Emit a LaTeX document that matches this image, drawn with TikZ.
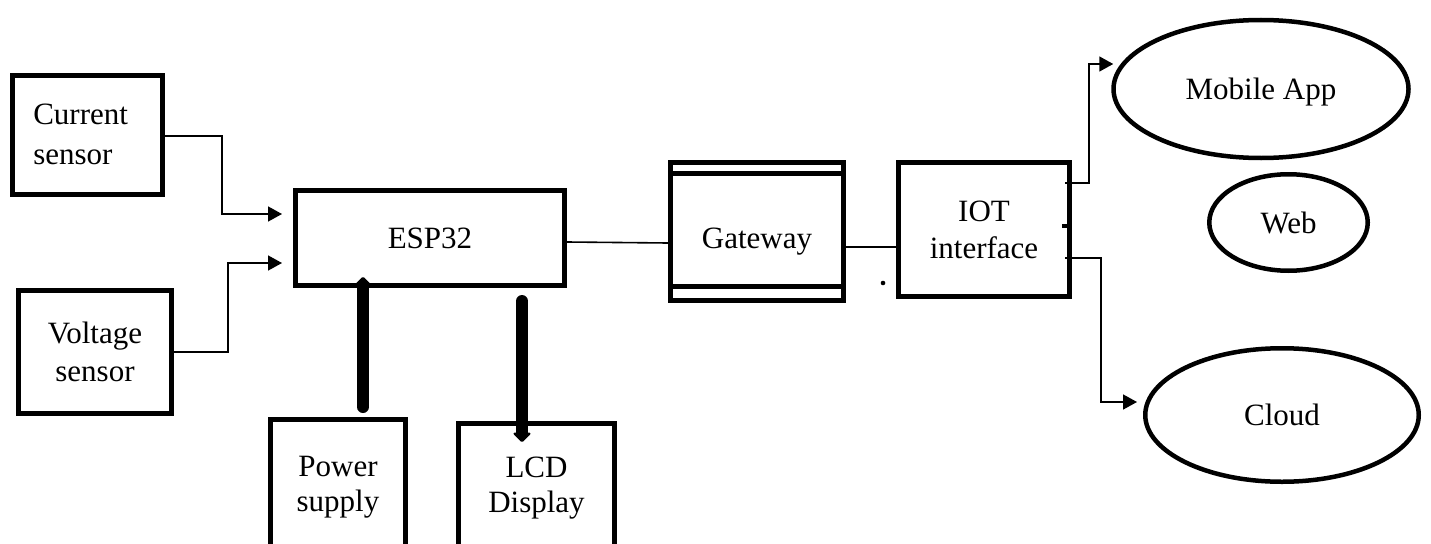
\documentclass[tikz,border=0pt]{standalone}
\usepackage{fontspec}
\setmainfont{Liberation Serif}
\usetikzlibrary{arrows.meta,shapes.geometric,calc}
\begin{document}
\begin{tikzpicture}[x=1pt,y=-1pt,
  box/.style={draw, line width=5pt, rectangle, inner sep=0pt, align=center, font=\fontsize{31}{38}\selectfont},
  oval/.style={draw, ellipse, line width=4.5pt, inner sep=0pt, font=\fontsize{31}{38}\selectfont},
  conn/.style={line width=1.6pt, -{Triangle[length=14pt,width=15pt]}},
  plainline/.style={line width=1.6pt},
  bigarrow/.style={line width=12pt, line cap=round, -{Triangle[length=10pt,width=20pt,round]}},
]
\useasboundingbox (0,0) rectangle (1431,543);
\clip (0,0) rectangle (1431,543);

% boxes
\node[box, minimum width=150.5pt, minimum height=118.5pt, text width=108pt, align=left,
      font=\fontsize{31}{40}\selectfont] (cur) at (87.25,134.75) {Current\\sensor};
\node[box, minimum width=153pt, minimum height=123pt] (volt) at (95,352) {Voltage\\sensor};
\node[box, minimum width=269pt, minimum height=95pt] (esp) at (430,238) {ESP32};
\node[box, minimum width=135pt, minimum height=136.2pt, font=\fontsize{31}{35}\selectfont] (power) at (338,487.6) {Power\\supply};
\node[box, minimum width=156pt, minimum height=128.2pt, font=\fontsize{31}{35}\selectfont] (lcd) at (536.5,487.6) {LCD\\Display};
\node[box, minimum width=173pt, minimum height=138pt, text height=40.7pt, text depth=6.7pt] (gw) at (757,231) {Gateway};
\node[box, minimum width=171pt, minimum height=134pt, font=\fontsize{31}{37}\selectfont] (iot) at (984,229.5) {IOT\\interface};

% ellipses
\node[oval, minimum width=295pt, minimum height=138pt, text depth=0pt] (mob) at (1261,89) {Mobile App};
\node[oval, minimum width=158.5pt, minimum height=96.5pt] (web) at (1288.5,222.5) {Web};
\node[oval, minimum width=273.5pt, minimum height=133.5pt] (cloud) at (1282,415) {Cloud};

% gateway inner lines
\draw[line width=4.5pt] ([yshift=-14pt]gw.north west) -- ([yshift=-14pt]gw.north east);
\draw[line width=4.5pt] ([yshift=16pt]gw.south west) -- ([yshift=16pt]gw.south east);

% connectors
\draw[conn, shorten >=11pt] ([yshift=-1.25pt]cur.east) -- ++(57,0) |- ([yshift=24pt]esp.west);
\draw[conn, shorten >=11pt] (volt.east) -- ++(54,0) |- ([yshift=-25pt]esp.west);
\draw[bigarrow] ([xshift=25pt,yshift=10pt]power.north) -- ([xshift=-67pt,yshift=11pt]esp.south);
\draw[bigarrow] ([xshift=92pt,yshift=-13pt]esp.south) -- ([xshift=-14.5pt,yshift=-21pt]lcd.north);
\draw[plainline] ([yshift=-4pt]esp.east) -- ([yshift=-12pt]gw.west);
\draw[plainline] ([yshift=-16pt]gw.east) -- ([yshift=-17.5pt]iot.west);
\draw[conn] ([xshift=-7pt,yshift=46.5pt]iot.east) -- ++(24,0) |- ([xshift=2pt,yshift=25pt]mob.west);
\draw[conn] ([xshift=-7pt,yshift=-28.5pt]iot.east) -- ++(36,0) |- ([xshift=-6pt,yshift=13pt]cloud.west);

% small marks
\fill (883,283) circle (2.3pt);
\fill (1062,224) rectangle (1067,228);
\end{tikzpicture}
\end{document}
